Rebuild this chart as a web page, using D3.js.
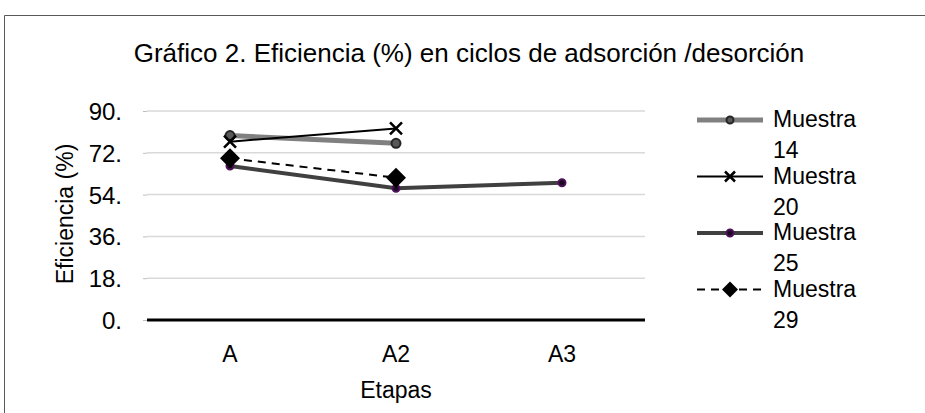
<!DOCTYPE html>
<html><head><meta charset="utf-8">
<script src="https://cdn.jsdelivr.net/npm/d3@7"></script>
<style>body{margin:0;background:#fff}svg{display:block}text{font-family:"Liberation Sans",Arial,sans-serif;fill:#000}</style>
</head><body>
<script>
const categories = ["A","A2","A3"];
const yTicks = [0,18,36,54,72,90];
const muestra14 = [79.4, 76.1, null];
const muestra20 = [76.8, 82.5, null];
const muestra25 = [66.3, 56.7, 59.1];
const muestra29 = [69.6, 61.3, null];
const seriesNames = ["Muestra 14","Muestra 20","Muestra 25","Muestra 29"];

const W=925,H=413;
const FS=23;
const svg=d3.select("body").append("svg").attr("width",W).attr("height",H);
svg.append("path").attr("d",`M4.5,${H} V15.5 H${W}`).attr("fill","none").attr("stroke","#595959").attr("stroke-width",1);

const x=d3.scaleBand().domain(categories).range([147,645]);
const y=d3.scaleLinear().domain([0,90]).range([320,111]);

svg.append("text").attr("x",469).attr("y",62).attr("text-anchor","middle").attr("font-size",26).text("Gráfico 2. Eficiencia (%) en ciclos de adsorción /desorción");

// gridlines
svg.append("g").selectAll("line").data(yTicks.filter(d=>d>0)).join("line")
 .attr("x1",147).attr("x2",645).attr("y1",d=>y(d)).attr("y2",d=>y(d)).attr("stroke","#d9d9d9").attr("stroke-width",1.5);
// y axis
const ya=svg.append("g").attr("transform","translate(147,0)").call(d3.axisLeft(y).tickValues(yTicks).tickFormat(d=>d+".").tickSize(4).tickPadding(21));
ya.select(".domain").remove();
ya.selectAll("line").attr("stroke","#bfbfbf");
ya.selectAll("text").attr("font-size",24).attr("font-family","Liberation Sans, Arial").attr("dy","0.35em");
// x axis
svg.append("line").attr("x1",147).attr("x2",645).attr("y1",y(0)).attr("y2",y(0)).attr("stroke","#000").attr("stroke-width",3);
const xa=svg.append("g").attr("transform",`translate(0,${y(0)})`).call(d3.axisBottom(x).tickSize(0).tickPadding(26));
xa.select(".domain").remove();
xa.selectAll("text").attr("font-size",FS).attr("font-family","Liberation Sans, Arial");

svg.append("text").attr("x",396).attr("y",398).attr("text-anchor","middle").attr("font-size",FS).text("Etapas");
svg.append("text").attr("transform","translate(73,214) rotate(-90)").attr("text-anchor","middle").attr("font-size",FS).text("Eficiencia (%)");

const cx=c=>x(c)+x.bandwidth()/2;
const styles=[
 {data:muestra14,stroke:"#808080",w:5,dash:null,marker:"circle",mfill:"#595959",mstroke:"#262626",r:4.5},
 {data:muestra20,stroke:"#000",w:2,dash:null,marker:"x"},
 {data:muestra25,stroke:"#404040",w:4,dash:null,marker:"circle",mfill:"#1a0a1f",mstroke:"#4d1059",r:3.5},
 {data:muestra29,stroke:"#000",w:2,dash:"8,6",marker:"diamond"}
];
function drawMarker(g,s,px,py,big){
 if(s.marker==="circle"){
  g.append("circle").attr("cx",px).attr("cy",py).attr("r",s.r).attr("fill",s.mfill).attr("stroke",s.mstroke).attr("stroke-width",2);
 } else if(s.marker==="x"){
  const k=big?6:5;
  g.append("path").attr("d",`M${px-k},${py-k}L${px+k},${py+k}M${px-k},${py+k}L${px+k},${py-k}`).attr("stroke","#000").attr("stroke-width",2.5);
 } else {
  const k=big?10:8;
  g.append("path").attr("d",`M${px},${py-k}L${px+k},${py}L${px},${py+k}L${px-k},${py}Z`).attr("fill","#000");
 }
}
const line=d3.line().defined(d=>d.v!=null).x(d=>cx(d.c)).y(d=>y(d.v));
const order=[2,0,1,3];
order.forEach(i=>{
 const s=styles[i];
 const pts=categories.map((c,j)=>({c,v:s.data[j]}));
 svg.append("path").datum(pts).attr("d",line).attr("fill","none").attr("stroke",s.stroke).attr("stroke-width",s.w).attr("stroke-dasharray",s.dash);
});
order.forEach(i=>{
 const s=styles[i];
 const g=svg.append("g");
 categories.forEach((c,j)=>{ if(s.data[j]!=null) drawMarker(g,s,cx(c),y(s.data[j]),true); });
});

// legend
seriesNames.forEach((n,i)=>{
 const s=styles[i];
 const ly=120+i*56.5;
 const g=svg.append("g");
 g.append("line").attr("x1",697).attr("x2",763).attr("y1",ly).attr("y2",ly).attr("stroke",s.stroke).attr("stroke-width",s.w).attr("stroke-dasharray",s.dash);
 drawMarker(g,Object.assign({},s,{r:s.r?Math.min(s.r,3.5):0}),730,ly,false);
 const parts=n.split(" ");
 g.append("text").attr("x",773).attr("y",ly+7).attr("font-size",FS).text(parts[0]);
 g.append("text").attr("x",773).attr("y",ly+38).attr("font-size",FS).text(parts[1]);
});
</script>
</body></html>
